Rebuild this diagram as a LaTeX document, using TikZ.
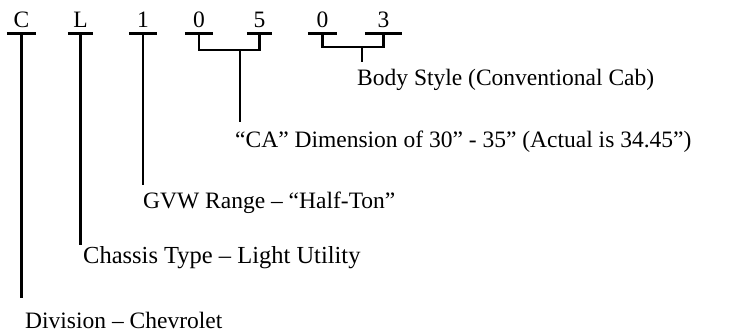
\documentclass[tikz,border=0pt]{standalone}
\usepackage{fontspec}
\setmainfont{Liberation Serif}
\usetikzlibrary{calc}
\tikzset{
  codechar/.style={anchor=south,inner xsep=0pt,inner ysep=5pt,text height=15pt,text depth=0pt,font=\fontsize{23.5}{28}\selectfont},
  desc/.style={anchor=base west,inner sep=0pt,text height=15.5pt,text depth=0pt,font=\fontsize{23.5}{28}\selectfont},
  stem/.style={line width=2.6pt},
  bar/.style={line width=3pt}
}

\begin{document}
\begin{tikzpicture}[x=1pt,y=-1pt]
  \useasboundingbox (0,0) rectangle (731,335);
  % code letters with their underlines
  \foreach \nm/\ch/\xx/\ww in {cC/C/21.5/29,cL/L/80.5/25,cOne/1/143/28,cZa/0/199/28,cFive/5/259.5/25,cZb/0/322.5/29,cThree/3/383.5/37}{
    \node[codechar,minimum width=\ww] (\nm) at (\xx,33) {\ch};
    \draw[bar] (\nm.south west) -- (\nm.south east);
  }
  % descriptions
  \node[desc] (body) at (357,85) {Body Style (Conventional Cab)};
  \node[desc] (ca) at (235,147) {“CA” Dimension of 30” - 35” (Actual is 34.45”)};
  \node[desc] (gvw) at (143,208) {GVW Range – “Half-Ton”};
  \node[desc,font=\fontsize{24.5}{28}\selectfont] (chassis) at (83,263) {Chassis Type – Light Utility};
  \node[desc] (division) at (25,328) {Division – Chevrolet};
  % single stems
  \draw[stem,shorten >=14pt] (cC.south) -- (cC.south |- division.north);
  \draw[stem,shorten >=2.5pt] (cL.south) -- (cL.south |- chassis.north);
  \draw[stem,shorten >=7.5pt] (cOne.south) -- (cOne.south |- gvw.north);
  % brackets
  \coordinate (j05) at (240,50);
  \draw[stem] (cZa.south) |- (j05) -| (cFive.south);
  \draw[stem,shorten >=9.5pt] (j05) -- (j05 |- ca.north);
  \coordinate (j03) at (362,47);
  \draw[stem] (cZb.south) |- (j03) -| (cThree.south);
  \draw[stem,shorten >=7.5pt] (j03) -- (j03 |- body.north);
\end{tikzpicture}
\end{document}
